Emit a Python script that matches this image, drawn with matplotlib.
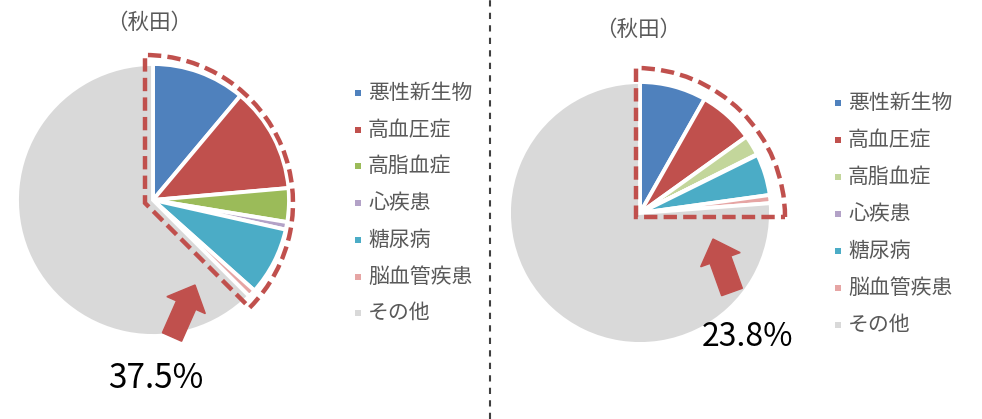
import matplotlib
matplotlib.use("Agg")
import matplotlib.pyplot as plt
from matplotlib.patches import Wedge, FancyArrow

plt.rcParams['font.family'] = ['Noto Sans CJK JP', 'DejaVu Sans']

categories = ["悪性新生物", "高血圧症", "高脂血症", "心疾患", "糖尿病", "脳血管疾患", "その他"]
left_values = [11.1, 12.5, 4.0, 0.9, 8.1, 0.9, 62.5]
right_values = [8.2, 6.9, 2.5, 0.1, 5.1, 1.0, 76.2]
left_colors = ["#4F81BD", "#C0504D", "#9BBB59", "#B3A2C7", "#4BACC6", "#E6A5A4", "#D9D9D9"]
right_colors = ["#4F81BD", "#C0504D", "#C3D69B", "#B3A2C7", "#4BACC6", "#E6A5A4", "#D9D9D9"]
titles = ["（秋田）", "（秋田）"]
totals = ["37.5%", "23.8%"]

W, H = 982, 419
fig = plt.figure(figsize=(W / 100, H / 100), dpi=100)
ax = fig.add_axes([0, 0, 1, 1])

def Y(y):
    return H - y

# pies
ax.pie(left_values, colors=left_colors, startangle=90, counterclock=False,
       center=(153, Y(200)), radius=136,
       wedgeprops=dict(edgecolor="white", linewidth=2.8))
ax.pie(right_values, colors=right_colors, startangle=90, counterclock=False,
       center=(640, Y(213)), radius=131,
       wedgeprops=dict(edgecolor="white", linewidth=2.8))

ax.set_xlim(0, W)
ax.set_ylim(0, H)
ax.set_aspect("equal")
ax.axis("off")

red = "#C0504D"
# dashed outlines around highlighted sectors
ax.add_patch(Wedge((145, Y(203)), 148, -45, 90, fill=False, edgecolor=red,
                   linewidth=3.2, linestyle=(0, (3, 1.4)), zorder=5))
ax.add_patch(Wedge((636, Y(217)), 149, 0, 90, fill=False, edgecolor=red,
                   linewidth=3.2, linestyle=(0, (3, 1.4)), zorder=5))

# arrows
ax.add_patch(FancyArrow(172, Y(337), 23, 52, width=21,
                        head_width=42, head_length=22,
                        length_includes_head=True, color=red, zorder=6))
ax.add_patch(FancyArrow(732, Y(292), -19, 53, width=22,
                        head_width=42, head_length=22,
                        length_includes_head=True, color=red, zorder=6))

# titles
ax.text(149, Y(23), titles[0], ha="center", va="center", fontsize=15.5, color="#595959")
ax.text(638, Y(30), titles[1], ha="center", va="center", fontsize=15.5, color="#595959")

# totals
ax.text(156, Y(378), totals[0], ha="center", va="center", fontsize=24, color="black")
ax.text(748, Y(337), totals[1], ha="center", va="center", fontsize=23, color="black")

# legends
def legend(x_marker, x_text, y0, dy, colors):
    for i, (lab, col) in enumerate(zip(categories, colors)):
        y = Y(y0 + i * dy)
        ax.scatter([x_marker], [y], marker="s", s=22, color=col, linewidths=0)
        ax.text(x_text, y, lab, ha="left", va="center", fontsize=15, color="#595959")

legend(358, 368, 93, 36.7, left_colors)
legend(838, 848, 103, 37.0, right_colors)

# separator
ax.plot([490, 490], [0, H], color="#404040", linewidth=1.5, linestyle=(0, (3, 3)))

fig.savefig("out.png", dpi=100)
